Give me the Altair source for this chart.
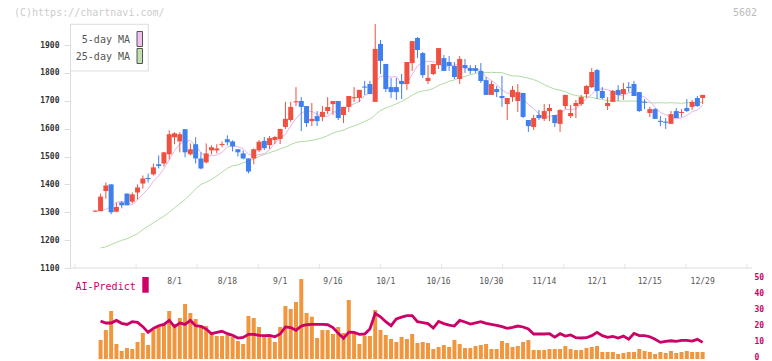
import altair as alt
import pandas as pd

FONT = "DejaVu Sans Mono"
RED = "#F0503F"
BLUE = "#3F7FEE"
ORANGE = "#F0963E"
MAGENTA = "#CC0066"
PINK = "#E8B2EA"
GREEN = "#B2DAA2"
AXIS_GRAY = "#DDDDDD"

# ---------------- data ----------------
dates = [
    "7/10", "7/11", "7/14", "7/15", "7/16", "7/17", "7/18", "7/22", "7/23", "7/24", "7/25", "7/28", "7/29", "7/30", "7/31",
    "8/1", "8/4", "8/5", "8/6", "8/7", "8/8", "8/12", "8/13", "8/14", "8/15", "8/18", "8/19", "8/20", "8/21", "8/22",
    "8/25", "8/26", "8/27", "8/28", "8/29",
    "9/1", "9/2", "9/3", "9/4", "9/5", "9/8", "9/9", "9/10", "9/11", "9/12", "9/16", "9/17", "9/18", "9/19", "9/22",
    "9/24", "9/25", "9/26", "9/29", "9/30",
    "10/1", "10/2", "10/3", "10/6", "10/7", "10/8", "10/9", "10/10", "10/14", "10/15", "10/16", "10/17", "10/20",
    "10/21", "10/22", "10/23", "10/24", "10/27", "10/28", "10/29", "10/30", "10/31",
    "11/4", "11/5", "11/6", "11/7", "11/10", "11/11", "11/12", "11/13", "11/14", "11/17", "11/18", "11/19", "11/20",
    "11/21", "11/25", "11/26", "11/27", "11/28",
    "12/1", "12/2", "12/3", "12/4", "12/5", "12/8", "12/9", "12/10", "12/11", "12/12", "12/15", "12/16", "12/17",
    "12/18", "12/19", "12/22", "12/23", "12/24", "12/25", "12/26", "12/29",
]

opens = [1302,
    1304, 1376, 1400, 1302, 1335, 1367, 1338, 1371, 1403, 1423,
    1436, 1472, 1475, 1508, 1569, 1554, 1598, 1508, 1544, 1493,
    1479, 1522, 1522, 1541, 1562, 1554, 1526, 1511, 1493, 1493,
    1522, 1556, 1541, 1559, 1563, 1606, 1631, 1694, 1699, 1681,
    1627, 1645, 1642, 1663, 1688, 1699, 1649, 1678, 1709, 1710,
    1751, 1760, 1696, 1904, 1832, 1749, 1749, 1771, 1760, 1835,
    1925, 1871, 1771, 1796, 1828, 1853, 1839, 1825, 1778, 1828,
    1817, 1817, 1807, 1774, 1721, 1742, 1717, 1688, 1713, 1699,
    1728, 1631, 1606, 1649, 1635, 1663, 1649, 1617, 1681, 1645,
    1681, 1688, 1724, 1749, 1810, 1735, 1681, 1696, 1739, 1724,
    1750, 1760, 1731, 1697, 1656, 1670, 1628, 1625, 1617, 1663,
    1656, 1674, 1678, 1710, 1710]

highs = [1306,
    1367, 1407, 1400, 1334, 1340, 1367, 1371, 1400, 1432, 1439,
    1475, 1504, 1515, 1594, 1587, 1587, 1598, 1547, 1569, 1515,
    1547, 1540, 1544, 1554, 1576, 1558, 1526, 1522, 1493, 1529,
    1559, 1570, 1574, 1574, 1599, 1696, 1696, 1749, 1713, 1681,
    1692, 1663, 1681, 1713, 1699, 1699, 1678, 1717, 1749, 1739,
    1771, 1771, 1975, 1918, 1832, 1782, 1782, 1796, 1839, 1914,
    1929, 1875, 1828, 1832, 1889, 1864, 1861, 1839, 1861, 1850,
    1828, 1828, 1835, 1785, 1771, 1753, 1789, 1710, 1753, 1760,
    1728, 1631, 1649, 1667, 1688, 1688, 1649, 1670, 1721, 1685,
    1703, 1721, 1756, 1817, 1814, 1749, 1713, 1739, 1756, 1764,
    1767, 1771, 1731, 1706, 1678, 1674, 1645, 1638, 1663, 1674,
    1670, 1706, 1703, 1717, 1721]

lows = [1302,
    1304, 1349, 1293, 1300, 1314, 1325, 1332, 1346, 1385, 1407,
    1432, 1457, 1464, 1490, 1544, 1515, 1497, 1504, 1475, 1454,
    1475, 1508, 1511, 1533, 1540, 1518, 1500, 1490, 1439, 1472,
    1516, 1523, 1527, 1545, 1545, 1599, 1624, 1681, 1591, 1606,
    1609, 1609, 1627, 1652, 1649, 1631, 1620, 1660, 1695, 1695,
    1721, 1724, 1696, 1796, 1731, 1710, 1703, 1706, 1739, 1807,
    1853, 1782, 1760, 1792, 1814, 1807, 1807, 1778, 1760, 1800,
    1796, 1800, 1764, 1721, 1721, 1713, 1678, 1631, 1696, 1660,
    1638, 1588, 1595, 1631, 1627, 1627, 1606, 1588, 1670, 1638,
    1638, 1681, 1710, 1746, 1706, 1706, 1667, 1696, 1699, 1703,
    1731, 1717, 1660, 1670, 1642, 1635, 1609, 1599, 1617, 1638,
    1642, 1660, 1667, 1678, 1688]

closes = [1306,
    1356, 1396, 1300, 1319, 1325, 1325, 1364, 1389, 1421, 1419,
    1461, 1466, 1515, 1580, 1583, 1580, 1515, 1526, 1493, 1457,
    1511, 1533, 1529, 1545, 1551, 1536, 1515, 1493, 1446, 1526,
    1553, 1530, 1566, 1570, 1599, 1635, 1678, 1698, 1678, 1620,
    1635, 1627, 1660, 1678, 1699, 1638, 1678, 1717, 1713, 1739,
    1747, 1724, 1886, 1843, 1742, 1731, 1731, 1760, 1839, 1914,
    1882, 1792, 1782, 1832, 1889, 1807, 1825, 1785, 1850, 1817,
    1807, 1807, 1771, 1721, 1760, 1731, 1710, 1710, 1739, 1731,
    1642, 1609, 1638, 1638, 1663, 1674, 1620, 1667, 1721, 1656,
    1692, 1713, 1753, 1803, 1735, 1710, 1692, 1735, 1721, 1742,
    1746, 1717, 1663, 1693, 1670, 1635, 1624, 1621, 1652, 1638,
    1660, 1663, 1696, 1681, 1721]

volume = [0,
    57, 87, 144, 45, 24, 33, 30, 51, 78, 42,
    87, 99, 105, 144, 105, 123, 165, 138, 120, 102,
    99, 78, 69, 69, 72, 66, 54, 45, 129, 123,
    96, 72, 66, 51, 96, 159, 150, 171, 240, 138,
    127, 63, 87, 87, 75, 96, 78, 177, 78, 45,
    69, 69, 147, 87, 72, 60, 51, 66, 60, 75,
    48, 51, 48, 30, 36, 42, 36, 57, 45, 33,
    33, 39, 42, 45, 30, 30, 54, 48, 36, 39,
    51, 57, 27, 27, 27, 30, 30, 30, 39, 30,
    27, 27, 33, 36, 39, 21, 21, 21, 15, 18,
    21, 21, 30, 24, 21, 15, 21, 18, 24, 18,
    21, 24, 21, 21, 21]

ma5 = [None,
    1304, 1311, 1320, 1335, 1339, 1333, 1327, 1344, 1365, 1384,
    1411, 1431, 1456, 1488, 1521, 1545, 1555, 1557, 1539, 1514,
    1500, 1504, 1505, 1515, 1534, 1539, 1535, 1528, 1508, 1503,
    1507, 1510, 1524, 1549, 1564, 1580, 1610, 1636, 1657, 1662,
    1662, 1651, 1644, 1644, 1660, 1660, 1671, 1682, 1689, 1697,
    1719, 1728, 1762, 1788, 1788, 1785, 1787, 1761, 1761, 1795,
    1825, 1837, 1842, 1840, 1835, 1820, 1827, 1828, 1831, 1817,
    1817, 1813, 1810, 1785, 1773, 1758, 1739, 1726, 1730, 1724,
    1706, 1686, 1672, 1652, 1638, 1644, 1647, 1652, 1669, 1668,
    1671, 1690, 1707, 1723, 1739, 1743, 1739, 1735, 1719, 1720,
    1728, 1733, 1718, 1713, 1698, 1676, 1658, 1650, 1641, 1635,
    1639, 1647, 1661, 1667, 1684]

ma25 = [None,
    1172, 1176, 1184, 1192, 1199, 1205, 1214, 1223, 1238, 1250,
    1262, 1274, 1286, 1300, 1316, 1331, 1346, 1364, 1384, 1400,
    1408, 1418, 1430, 1444, 1458, 1466, 1470, 1478, 1483, 1491,
    1500, 1507, 1514, 1520, 1527, 1534, 1543, 1550, 1554, 1555,
    1558, 1562, 1567, 1575, 1584, 1590, 1595, 1603, 1610, 1617,
    1626, 1634, 1650, 1665, 1674, 1681, 1689, 1697, 1708, 1720,
    1730, 1735, 1738, 1744, 1755, 1762, 1770, 1775, 1782, 1787,
    1793, 1798, 1801, 1801, 1802, 1801, 1801, 1794, 1789, 1789,
    1785, 1781, 1776, 1768, 1758, 1749, 1742, 1738, 1733, 1724,
    1719, 1715, 1714, 1712, 1708, 1705, 1700, 1699, 1699, 1698,
    1699, 1699, 1697, 1695, 1693, 1692, 1693, 1692, 1693, 1692,
    1691, 1693, 1694, 1693, 1695]

ai_predict = [None,
    22.9, 21.7, 21.7, 23.3, 21.5, 20.8, 22.5, 22.1, 19.4, 15.8,
    18.3, 20.0, 20.8, 23.3, 19.4, 21.7, 20.8, 23.3, 20.0, 19.6,
    17.9, 15.0, 15.8, 16.5, 15.0, 14.0, 12.3, 12.7, 14.6, 14.6,
    14.0, 13.8, 14.0, 13.1, 14.8, 19.2, 18.8, 17.1, 19.8, 20.6,
    20.8, 20.8, 20.8, 20.6, 18.8, 15.2, 12.1, 16.0, 15.8, 14.6,
    14.8, 17.9, 27.7, 25.6, 22.5, 20.0, 24.2, 25.4, 26.3, 26.3,
    22.5, 21.9, 21.3, 18.5, 22.7, 21.3, 20.4, 19.8, 23.3, 22.3,
    21.0, 21.7, 22.5, 21.5, 20.8, 20.2, 19.4, 18.3, 19.0, 19.8,
    19.2, 17.9, 14.8, 14.8, 14.8, 15.0, 12.9, 15.0, 13.5, 14.2,
    12.5, 12.3, 12.5, 13.8, 15.8, 13.8, 12.7, 13.3, 12.3, 13.5,
    11.5, 15.2, 13.8, 13.8, 13.1, 11.5, 9.6, 10.2, 10.6, 10.2,
    10.8, 10.8, 10.4, 11.5, 9.6]

date_labels = ["8/1", "8/18", "9/1", "9/16", "10/1", "10/16", "10/30", "11/14", "12/1", "12/15", "12/29"]
price_ticks = [1100, 1200, 1300, 1400, 1500, 1600, 1700, 1800, 1900]
ai_ticks = [0, 10, 20, 30, 40, 50]

df = pd.DataFrame({
    "idx": list(range(len(dates))),
    "date": dates,
    "open": opens,
    "high": highs,
    "low": lows,
    "close": closes,
    "volume": volume,
    "ma5": ma5,
    "ma25": ma25,
    "ai": ai_predict,
})

# ---------------- layout ----------------
W, H = 682, 353
X_LO, X_HI = -3.843, 123.396
xscale = alt.Scale(domain=[X_LO, X_HI], nice=False, zero=False)
x_enc = alt.X("idx:Q", scale=xscale, axis=None)

price_scale = alt.Scale(domain=[1100, 1975], range=[260, 16.1], nice=False, zero=False)
price_axis = alt.Axis(values=price_ticks, orient="left", title=None, grid=False, format="d",
                      domainColor=AXIS_GRAY, tickColor=AXIS_GRAY, tickSize=6,
                      labelFont=FONT, labelFontSize=8, labelFontWeight="bold",
                      labelColor="#333333", labelPadding=5)

up_cond = alt.condition("datum.close >= datum.open", alt.value(RED), alt.value(BLUE))

base = alt.Chart(df)

ma25_line = base.mark_line(color=GREEN, strokeWidth=1).encode(
    x=x_enc, y=alt.Y("ma25:Q", scale=price_scale, axis=price_axis))
ma5_line = base.mark_line(color=PINK, strokeWidth=1).encode(
    x=x_enc, y=alt.Y("ma5:Q", scale=price_scale, axis=price_axis))
wicks = base.mark_rule(strokeWidth=1).encode(
    x=x_enc, y=alt.Y("high:Q", scale=price_scale, axis=price_axis), y2="low:Q", color=up_cond)
bodies = base.mark_bar(size=5).encode(
    x=x_enc, y=alt.Y("open:Q", scale=price_scale, axis=price_axis), y2="close:Q", color=up_cond)

price_layer = alt.layer(ma25_line, ma5_line, wicks, bodies)

vol_bars = base.mark_bar(size=4, color=ORANGE).encode(
    x=x_enc,
    y=alt.Y("volume:Q", scale=alt.Scale(domain=[0, 240], range=[351, 271], nice=False), axis=None))

ai_line = base.mark_line(color=MAGENTA, strokeWidth=2.8).encode(
    x=x_enc,
    y=alt.Y("ai:Q", scale=alt.Scale(domain=[0, 50], range=[349.7, 269.7], nice=False, zero=False),
            axis=alt.Axis(orient="right", values=ai_ticks, title=None, domain=False, ticks=False,
                          grid=False, labelFont=FONT, labelFontSize=8, labelFontWeight="bold",
                          labelColor=MAGENTA, labelPadding=2)))

date_text = base.mark_text(font=FONT, fontSize=8, color="#555555", baseline="middle", align="center").encode(
    x=x_enc, y=alt.value(274), text="date:N"
).transform_filter(alt.FieldOneOfPredicate(field="date", oneOf=date_labels))

# bottom axis of the price panel
tick_slots = [X_LO + k * (X_HI - X_LO) / 11 for k in range(12)]
ticks_df = pd.DataFrame({"slot": tick_slots})
x_ticks = alt.Chart(ticks_df).mark_tick(color=AXIS_GRAY, thickness=1, size=5).encode(
    x=alt.X("slot:Q", scale=xscale, axis=None), y=alt.value(258.5))

one = pd.DataFrame({"k": [0]})
base1 = alt.Chart(one)
x_base = base1.mark_rule(color=AXIS_GRAY, strokeWidth=1).encode(
    x=alt.value(0), x2=alt.value(W), y=alt.value(260))

# legend box
leg_box = base1.mark_rect(fill="white", stroke=AXIS_GRAY, strokeWidth=1).encode(
    x=alt.value(0.5), x2=alt.value(78.3), y=alt.value(16.3), y2=alt.value(63))
leg_t1 = base1.mark_text(font=FONT, fontSize=10, color="#555555", align="right", baseline="middle").encode(
    x=alt.value(60), y=alt.value(31.5), text=alt.value("5-day MA"))
leg_t2 = base1.mark_text(font=FONT, fontSize=10, color="#555555", align="right", baseline="middle").encode(
    x=alt.value(60), y=alt.value(48.5), text=alt.value("25-day MA"))
leg_s1 = base1.mark_rect(fill="#F0C0F0", stroke="#555555", strokeWidth=1).encode(
    x=alt.value(67), x2=alt.value(72.5), y=alt.value(23.5), y2=alt.value(38.5))
leg_s2 = base1.mark_rect(fill="#C0E0B0", stroke="#555555", strokeWidth=1).encode(
    x=alt.value(67), x2=alt.value(72.5), y=alt.value(40.5), y2=alt.value(55.5))

ai_label = base1.mark_text(font=FONT, fontSize=10, color=MAGENTA, align="left", baseline="middle").encode(
    x=alt.value(5.5), y=alt.value(278.5), text=alt.value("AI-Predict"))
ai_square = base1.mark_rect(color=MAGENTA).encode(
    x=alt.value(72.3), x2=alt.value(78.7), y=alt.value(269), y2=alt.value(284.7))

copyright_t = base1.mark_text(font=FONT, fontSize=10, color="#CCCCCC", align="left", baseline="middle").encode(
    x=alt.value(-56), y=alt.value(4.5), text=alt.value("(C)https://chartnavi.com/"))
code_t = base1.mark_text(font=FONT, fontSize=10, color="#BBBBBB", align="left", baseline="middle").encode(
    x=alt.value(663), y=alt.value(4.5), text=alt.value("5602"))

chart = alt.layer(
    x_base, x_ticks, price_layer, vol_bars, ai_line, date_text,
    leg_box, leg_t1, leg_t2, leg_s1, leg_s2, ai_label, ai_square, copyright_t, code_t,
).resolve_scale(y="independent").properties(
    width=W, height=H,
    padding={"left": 62, "top": 0, "right": 12, "bottom": 0},
    autosize=alt.AutoSizeParams(type="none"),
    background="white",
).configure_view(stroke=None)

chart.save("out.html", embed_options={"renderer": "svg", "actions": False})
